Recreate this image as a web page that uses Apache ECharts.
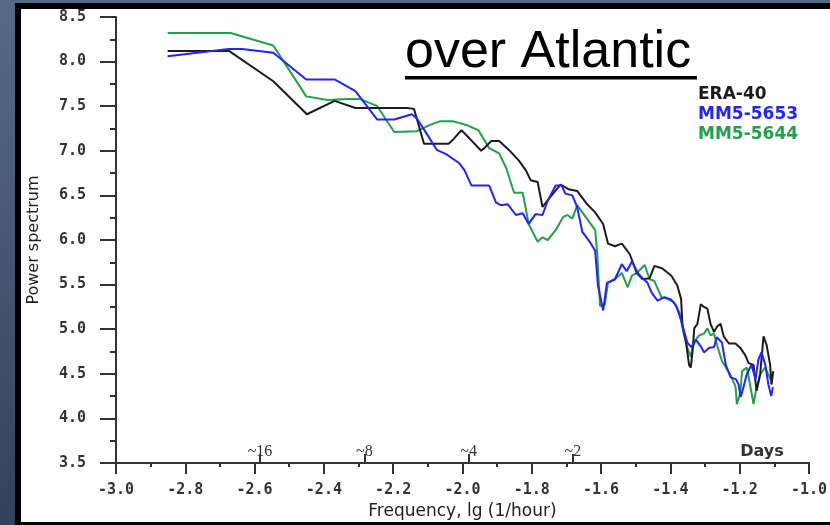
<!DOCTYPE html>
<html>
<head>
<meta charset="utf-8">
<script src="https://cdn.jsdelivr.net/npm/echarts@6/dist/echarts.min.js"></script>
<style>
  html, body { margin: 0; padding: 0; background: #3e4f6b; }
  #chart { width: 830px; height: 525px; }
</style>
</head>
<body>
<div id="chart"></div>
<script>
// Power spectra of the three runs, x = lg frequency (1/hour), y = power
const seriesNames = ['ERA-40', 'MM5-5653', 'MM5-5644'];
const seriesColors = ['#1c1c1c', '#2323ff', '#23a04c'];

const eraX = [-2.851,-2.674,-2.546,-2.449,-2.369,-2.309,-2.160,-2.140,-2.111,-2.094,-2.040,-2.026,-2.003,-1.980,-1.946,-1.937,-1.917,-1.894,-1.866,-1.837,-1.817,-1.803,-1.783,-1.769,-1.751,-1.717,-1.694,-1.669,-1.640,-1.617,-1.594,-1.580,-1.560,-1.540,-1.517,-1.497,-1.480,-1.460,-1.446,-1.423,-1.397,-1.380,-1.369,-1.365,-1.355,-1.346,-1.341,-1.336,-1.331,-1.322,-1.312,-1.303,-1.293,-1.284,-1.274,-1.265,-1.255,-1.246,-1.231,-1.212,-1.198,-1.184,-1.174,-1.160,-1.151,-1.141,-1.131,-1.122,-1.117,-1.112,-1.108,-1.103];
const eraY = [8.12,8.12,7.78,7.41,7.56,7.48,7.48,7.47,7.08,7.08,7.08,7.13,7.23,7.14,7.00,7.03,7.11,7.11,7.01,6.89,6.78,6.67,6.65,6.37,6.46,6.62,6.57,6.55,6.40,6.31,6.18,5.96,5.93,5.96,5.84,5.63,5.56,5.57,5.71,5.68,5.60,5.49,5.34,5.04,4.86,4.60,4.57,4.75,5.01,5.06,5.28,5.25,5.23,5.06,4.97,5.03,5.06,4.92,4.84,4.84,4.79,4.71,4.62,4.60,4.31,4.49,4.92,4.82,4.71,4.60,4.38,4.53];

const mm5653X = [-2.851,-2.674,-2.637,-2.546,-2.451,-2.369,-2.309,-2.246,-2.197,-2.146,-2.131,-2.103,-2.074,-2.046,-2.009,-1.994,-1.974,-1.923,-1.903,-1.889,-1.869,-1.846,-1.826,-1.809,-1.789,-1.769,-1.754,-1.731,-1.714,-1.703,-1.683,-1.669,-1.654,-1.631,-1.617,-1.609,-1.594,-1.583,-1.560,-1.540,-1.526,-1.511,-1.494,-1.480,-1.466,-1.454,-1.437,-1.417,-1.397,-1.383,-1.369,-1.360,-1.351,-1.340,-1.326,-1.311,-1.303,-1.289,-1.274,-1.266,-1.251,-1.240,-1.226,-1.211,-1.203,-1.197,-1.189,-1.180,-1.166,-1.154,-1.146,-1.137,-1.126,-1.117,-1.109,-1.104];
const mm5653Y = [8.06,8.14,8.14,8.10,7.80,7.80,7.67,7.35,7.35,7.41,7.36,7.19,7.01,6.96,6.86,6.78,6.61,6.61,6.42,6.39,6.40,6.28,6.30,6.18,6.29,6.28,6.44,6.61,6.61,6.52,6.50,6.37,6.09,5.97,5.88,5.49,5.21,5.52,5.56,5.73,5.65,5.76,5.63,5.57,5.52,5.41,5.32,5.36,5.33,5.26,5.10,4.97,4.85,4.80,4.88,4.80,4.74,4.79,4.80,4.91,4.85,4.60,4.46,4.44,4.38,4.24,4.35,4.49,4.60,4.44,4.66,4.74,4.60,4.38,4.25,4.35];

const mm5644X = [-2.851,-2.669,-2.546,-2.451,-2.389,-2.331,-2.294,-2.246,-2.197,-2.131,-2.094,-2.066,-2.026,-1.989,-1.954,-1.923,-1.894,-1.874,-1.851,-1.826,-1.809,-1.783,-1.769,-1.754,-1.731,-1.709,-1.697,-1.683,-1.669,-1.654,-1.617,-1.611,-1.603,-1.589,-1.580,-1.560,-1.540,-1.523,-1.511,-1.497,-1.474,-1.460,-1.446,-1.426,-1.409,-1.389,-1.374,-1.360,-1.351,-1.341,-1.336,-1.327,-1.317,-1.303,-1.293,-1.284,-1.274,-1.265,-1.251,-1.241,-1.227,-1.212,-1.208,-1.198,-1.193,-1.179,-1.170,-1.160,-1.151,-1.141,-1.127,-1.117,-1.108];
const mm5644Y = [8.32,8.32,8.18,7.61,7.57,7.58,7.58,7.50,7.21,7.22,7.29,7.33,7.33,7.29,7.23,7.03,6.97,6.81,6.53,6.53,6.18,5.98,6.03,6.00,6.11,6.26,6.28,6.24,6.39,6.31,6.11,5.85,5.26,5.28,5.52,5.56,5.63,5.47,5.60,5.63,5.72,5.56,5.54,5.36,5.34,5.30,5.19,4.93,4.79,4.69,4.79,4.88,4.93,4.95,5.01,4.93,4.95,4.82,4.64,4.58,4.49,4.36,4.16,4.29,4.53,4.57,4.38,4.16,4.35,4.49,4.57,4.49,4.42];

// Period markers along the frequency axis (days)
const periodDays = [16, 8, 4, 2];
const periodX = periodDays.map(d => Math.log10(1 / (d * 24)));

const xRange = { min: -3.0, max: -1.0, step: 0.2 };
const yRange = { min: 3.5, max: 8.5, step: 0.5 };

const zip = (xs, ys) => xs.map((x, i) => [x, ys[i]]);
const seriesData = [zip(eraX, eraY), zip(mm5653X, mm5653Y), zip(mm5644X, mm5644Y)];

const tickFont = { fontFamily: 'DejaVu Sans Mono', fontWeight: 'bold', fontSize: 15, color: '#333' };
const axisInk = { color: '#333', width: 2 };

const chart = echarts.init(document.getElementById('chart'), null, { renderer: 'canvas' });

chart.setOption({
  animation: false,
  backgroundColor: {
    type: 'linear', x: 0, y: 0, x2: 0, y2: 1,
    colorStops: [{ offset: 0, color: '#566a88' }, { offset: 1, color: '#33425b' }]
  },
  graphic: [
    { type: 'rect', z: -20, shape: { x: 15, y: 3, width: 815, height: 522 }, style: { fill: '#000' } },
    { type: 'rect', z: -19, shape: { x: 21, y: 9, width: 809, height: 513 }, style: { fill: '#fff' } },
    // underline of the heading
    { type: 'rect', z: 5, shape: { x: 405, y: 76, width: 292, height: 3.5 }, style: { fill: '#000' } },
    { type: 'text', z: 5, x: 762, y: 452,
      style: { text: 'Days', fill: '#333', font: 'bold 16px "DejaVu Sans"', textAlign: 'center', textVerticalAlign: 'middle' } }
  ],
  title: {
    text: 'over Atlantic',
    left: 405, top: 27, padding: 0,
    textStyle: { fontFamily: 'Liberation Sans', fontSize: 52, fontWeight: 'normal', color: '#000' }
  },
  legend: {
    orient: 'vertical',
    left: 687, top: 81,
    itemGap: 3, itemWidth: 0, itemHeight: 0,
    selectedMode: false,
    itemStyle: { opacity: 0 }, lineStyle: { opacity: 0 },
    textStyle: { fontFamily: 'DejaVu Sans', fontWeight: 'bold', fontSize: 17 },
    data: seriesNames.map((n, i) => ({ name: n, textStyle: { color: seriesColors[i] } }))
  },
  grid: { left: 116, right: 14, top: 17, bottom: 55, containLabel: false },
  xAxis: [
    {
      type: 'value', min: xRange.min, max: xRange.max, interval: xRange.step,
      position: 'bottom',
      axisLine: { onZero: false, lineStyle: axisInk },
      axisTick: { length: 11, lineStyle: axisInk },
      minorTick: { show: true, splitNumber: 2, length: 4, lineStyle: axisInk },
      splitLine: { show: false },
      axisLabel: Object.assign({ margin: 20, formatter: v => v.toFixed(1) }, tickFont),
      name: 'Frequency, lg (1/hour)',
      nameLocation: 'middle', nameGap: 40,
      nameTextStyle: { fontFamily: 'DejaVu Sans', fontSize: 17, color: '#222' }
    },
    {
      type: 'value', min: xRange.min, max: xRange.max,
      position: 'bottom',
      axisLine: { show: true, onZero: false, lineStyle: axisInk },
      splitLine: { show: false },
      axisTick: { show: true, inside: true, length: 9, customValues: periodX, lineStyle: axisInk },
      axisLabel: {
        show: true, inside: true, margin: 3, customValues: periodX,
        fontFamily: 'Liberation Serif', fontSize: 16, color: '#333',
        formatter: v => {
          let best = 0;
          periodX.forEach((p, i) => { if (Math.abs(p - v) < Math.abs(periodX[best] - v)) best = i; });
          return '~' + periodDays[best];
        }
      }
    }
  ],
  yAxis: {
    type: 'value', min: yRange.min, max: yRange.max, interval: yRange.step,
    axisLine: { show: true, onZero: false, lineStyle: axisInk },
    axisTick: { show: true, length: 16, lineStyle: axisInk },
    minorTick: { show: true, splitNumber: 2, length: 6, lineStyle: axisInk },
    splitLine: { show: false },
    axisLabel: Object.assign({ margin: 30, formatter: v => v.toFixed(1) }, tickFont),
    name: 'Power spectrum',
    nameLocation: 'middle', nameGap: 74, nameRotate: 90,
    nameTextStyle: { fontFamily: 'DejaVu Sans', fontSize: 16, color: '#222' }
  },
  series: seriesNames.map((n, i) => ({
    name: n,
    type: 'line',
    xAxisIndex: 0,
    data: seriesData[i],
    showSymbol: false,
    symbol: 'none',
    z: [3, 4, 2][i],
    lineStyle: { width: 2, color: seriesColors[i] },
    itemStyle: { color: seriesColors[i] }
  }))
});
</script>
</body>
</html>
